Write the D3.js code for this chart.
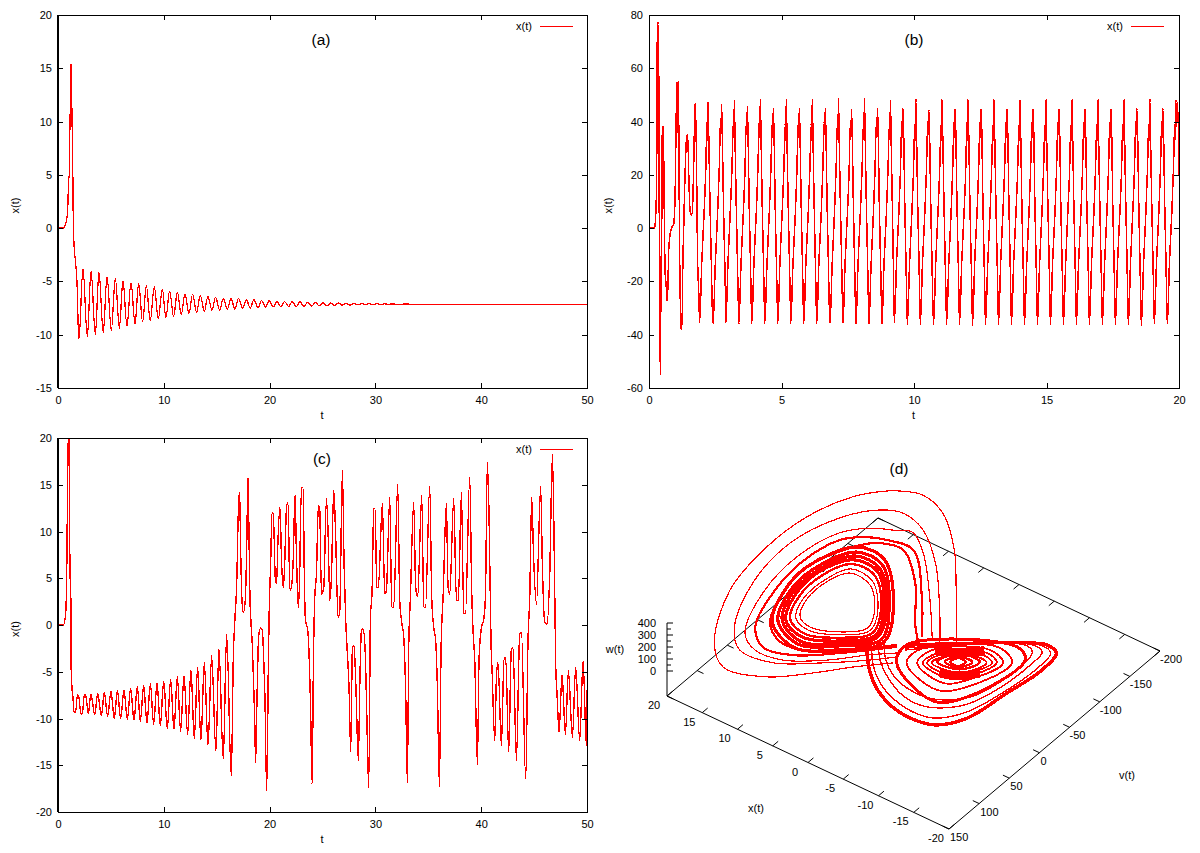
<!DOCTYPE html>
<html>
<head>
<meta charset="utf-8">
<script src="https://cdn.jsdelivr.net/npm/d3@7"></script>
<style>
  html, body { margin: 0; background: #fff; }
  svg { display: block; font-family: "Liberation Sans", sans-serif; }
  .tick text { font: 11px "Liberation Sans", sans-serif; fill: #000; }
  .tick line, .domain { stroke: #000; shape-rendering: crispEdges; }
  .lbl { font-size: 11px; fill: #000; }
  .ttl { font-size: 15.5px; fill: #000; }
  .curve { fill: none; stroke: #f00; stroke-width: 1.3; shape-rendering: crispEdges; }
</style>
</head>
<body>
<svg id="chart" width="1200" height="853"></svg>
<script>
// (a) decaying oscillation
const aT = [0,.5,.72,.85,.93,1,1.07,1.13,1.16,1.23,1.27,1.35,1.38,1.42,1.51,1.64,1.73,1.83,1.89,
  1.98,2.36,2.77,3.12,3.53,3.87,4.28,4.63,5.04,5.42,5.8,6.14,6.52,6.9,7.28,7.62,8,8.35,8.72,9.1,9.48,9.86,
  10.2,10.55,10.93,11.28,11.65,12,12.38,12.72,13.1,13.45,13.83,14.17,14.55,14.9,15.28,15.62,16,16.35,16.72,17.07,
  17.45,17.8,18.17,18.52,18.9,19.24,19.62,19.97,20.35,20.7,21.07,21.42,21.8,22.14,22.52,22.87,
  23.24,23.6,23.97,24.33,24.7,25.05,25.42,25.78,26.15,26.5,26.88,27.24,27.6,27.97,28.33,28.7,29.06,29.42,29.8,30.15,
  30.5,30.88,31.24,31.6,32,33,33.4,34,50];
const aX = [0,0,.4,1,2.1,4.5,5,10.8,9.2,15.4,9.5,11.2,8,2.8,-1.5,-3,-4,-6,-8.6,
  -10.4,-3.8,-10.2,-4,-10,-4.1,-9.8,-4.5,-9.6,-4.7,-9.4,-4.9,-9.2,-5.1,-9,-5.2,-8.8,-5.4,-8.7,-5.5,-8.5,-5.7,
  -8.4,-5.9,-8.3,-6,-8.1,-6.2,-8,-6.2,-7.9,-6.3,-7.8,-6.4,-7.7,-6.5,-7.7,-6.6,-7.6,-6.6,-7.6,-6.6,
  -7.5,-6.7,-7.5,-6.7,-7.5,-6.8,-7.4,-6.8,-7.4,-6.85,-7.4,-6.9,-7.35,-6.9,-7.35,-6.9,
  -7.35,-6.95,-7.32,-6.97,-7.3,-7,-7.28,-7.02,-7.26,-7.03,-7.23,-7.05,-7.22,-7.06,-7.2,-7.07,-7.19,-7.08,-7.18,-7.09,
  -7.17,-7.1,-7.16,-7.11,-7.15,-7.12,-7.16,-7.14,-7.14];

// (b) periodic regime
const bT = [0,.21,.25,.29,.31,.34,.37,.38,.4,.43,.45,.48,.5,.53,.55,.58,.62,.65,.68,.72,.74,.78,.82,.87,.92,.96,.99,1.02,1.06,1.08,1.11,1.13,1.16,1.2,1.21,1.25,1.27,1.31,1.35,1.39,1.42,1.46,1.5,1.54,1.57,1.62,1.66,1.7,1.73,1.75,1.79,1.83,1.88,
  1.91,1.99,2.08,2.14,2.19,2.21,2.23,2.26,2.3,2.35,2.38,
  2.42,2.5,2.59,2.65,2.7,2.72,2.74,2.77,2.81,2.86,2.89,
  2.9,2.98,3.07,3.13,3.18,3.2,3.22,3.25,3.29,3.34,3.37,
  3.39,3.47,3.56,3.62,3.67,3.69,3.71,3.74,3.78,3.83,3.86,
  3.88,3.96,4.05,4.11,4.16,4.18,4.2,4.23,4.27,4.32,4.35,
  4.37,4.45,4.54,4.6,4.65,4.67,4.69,4.72,4.76,4.81,4.84,
  4.86,4.94,5.03,5.09,5.14,5.16,5.18,5.21,5.25,5.3,5.33,
  5.35,5.43,5.52,5.58,5.63,5.65,5.67,5.7,5.74,5.79,5.82,
  5.84,5.92,6.01,6.07,6.12,6.14,6.16,6.19,6.23,6.28,6.31,
  6.33,6.41,6.5,6.56,6.61,6.63,6.65,6.68,6.72,6.77,6.8,
  6.83,6.91,7,7.06,7.11,7.13,7.15,7.18,7.22,7.27,7.3,
  7.32,7.4,7.49,7.55,7.6,7.62,7.64,7.67,7.71,7.76,7.79,
  7.81,7.89,7.98,8.04,8.09,8.11,8.13,8.16,8.2,8.25,8.28,
  8.3,8.38,8.47,8.53,8.58,8.6,8.62,8.65,8.69,8.74,8.77,
  8.79,8.87,8.96,9.02,9.07,9.09,9.11,9.14,9.18,9.22,9.24,
  9.26,9.34,9.43,9.49,9.54,9.56,9.58,9.61,9.65,9.7,9.73,
  9.75,9.83,9.92,9.98,10.03,10.05,10.07,10.1,10.14,10.19,10.22,
  10.24,10.32,10.41,10.47,10.52,10.54,10.56,10.59,10.63,10.68,10.71,
  10.74,10.82,10.91,10.97,11.02,11.04,11.06,11.09,11.13,11.18,11.21,
  11.23,11.31,11.4,11.46,11.51,11.53,11.55,11.58,11.62,11.67,11.7,
  11.72,11.8,11.89,11.95,12,12.02,12.04,12.07,12.11,12.16,12.19,
  12.21,12.29,12.38,12.44,12.49,12.51,12.53,12.56,12.6,12.65,12.68,
  12.7,12.78,12.87,12.93,12.98,13,13.02,13.05,13.09,13.14,13.17,
  13.19,13.27,13.36,13.42,13.47,13.49,13.51,13.54,13.58,13.63,13.66,
  13.68,13.76,13.85,13.91,13.96,13.98,14,14.03,14.07,14.12,14.15,
  14.17,14.25,14.34,14.4,14.45,14.47,14.49,14.52,14.56,14.61,14.64,
  14.66,14.74,14.83,14.89,14.94,14.96,14.98,15.01,15.05,15.1,15.13,
  15.15,15.23,15.32,15.38,15.43,15.45,15.47,15.5,15.54,15.59,15.62,
  15.64,15.72,15.81,15.87,15.92,15.94,15.96,15.99,16.03,16.08,16.11,
  16.13,16.21,16.3,16.36,16.41,16.43,16.45,16.48,16.52,16.57,16.6,
  16.62,16.7,16.79,16.85,16.9,16.92,16.94,16.97,17.01,17.06,17.09,
  17.11,17.19,17.28,17.34,17.39,17.41,17.43,17.46,17.5,17.55,17.58,
  17.6,17.68,17.77,17.83,17.88,17.9,17.92,17.95,17.99,18.04,18.07,
  18.09,18.17,18.26,18.32,18.37,18.39,18.41,18.44,18.48,18.53,18.56,
  18.58,18.66,18.75,18.81,18.86,18.88,18.9,18.93,18.97,19.02,19.05,
  19.07,19.15,19.24,19.3,19.35,19.37,19.39,19.42,19.46,19.51,19.54,
  19.56,19.64,19.73,19.79,19.84,19.86,19.88,19.91,19.95,20];
const bX = [0,0,4,19,69,77.5,55,27,-30,-55,-19,0,35,38.5,32,3,-22,-20,-27.5,-20,-9,-3.5,-1,.5,1,5,15,38,55,36,55,27,-13,-35,-38,-35,-18,0,17,29,34,35,20,8,5,5,12,30,45,47,28,-10,-25,
  -35.5,-13,6,21,40,33,47.5,32,10,-12,-27,
  -36,-14,6,22,41,35,46.5,33,9,-13,-28,
  -35.5,-13,7,22,40,34,47.8,31,10,-14,-28,
  -36,-14,6,21,40,35,45.5,34,9,-13,-29,
  -36,-13,6,22,41,34,48.5,33,10,-13,-28,
  -36,-14,6,22,40,34,45,35,9,-14,-28,
  -36,-13,7,22,39,33,48.5,32,10,-13,-27,
  -36,-14,5,21,40,34,45,35,10,-13,-28,
  -36,-13,6,22,39,33,48.5,33,10,-14,-28,
  -36,-13,6,22,40,35,45,35,9,-13,-28,
  -36,-14,6,22,40,33,48.5,32,10,-13,-28,
  -36,-13,6,21,40,34,44.5,35,10,-14,-29,
  -36,-13,7,22,39,33,48.5,33,10,-13,-28,
  -36,-14,6,22,40,34,45,36,9,-13,-28,
  -36,-13,6,22,39,33,48,32,10,-13,-28,
  -35.5,-13,6,22,40,34,45,36,10,-14,-28,
  -36,-14,6,21,39,33,48.5,33,9,-13,-28,
  -36,-13,6,22,40,35,44.5,35,10,-13,-28,
  -36,-13,7,22,39,33,48.5,32,10,-14,-27,
  -36,-14,6,22,40,34,45,35,10,-13,-28,
  -36,-13,6,21,40,33,48.5,33,9,-13,-28,
  -36.5,-13,6,22,40,34,45,36,10,-14,-28,
  -36,-14,6,22,39,33,48.5,32,10,-13,-28,
  -36,-13,7,22,40,34,45,35,10,-13,-29,
  -36,-13,6,21,39,33,48.5,33,9,-14,-28,
  -36,-14,6,22,40,34,45,36,10,-13,-28,
  -36,-13,6,22,39,33,48.5,32,10,-13,-28,
  -36,-13,6,22,40,35,45,35,9,-14,-28,
  -36,-14,7,21,39,33,48.5,33,10,-13,-27,
  -36,-13,6,22,40,34,45,35,10,-13,-28,
  -36,-13,6,22,39,33,48.5,32,10,-14,-28,
  -36,-14,6,22,40,34,45,36,9,-13,-28,
  -36,-13,6,21,39,33,48.5,33,10,-13,-28,
  -36,-13,7,22,40,35,45,35,10,-14,-28,
  -36.5,-14,6,22,39,33,48.5,32,10,-13,-28,
  -36,-13,6,22,40,34,45,35,9,-13,-29,
  -36,-13,6,22,39,33,48,38,47,20];

// (c) transient chaos
const cT = [0,.5,.66,.76,.82,.91,.98,1.04,1.1,1.17,1.2,1.23,1.32,1.42,1.51,1.67,1.83,1.95,2.17,2.3,2.49,2.65,2.87,3.09,3.18,3.47,3.75,4.1,4.38,4.69,5.01,5.32,5.61,5.92,6.24,6.55,6.87,7.18,7.5,7.78,8.1,8.41,8.73,9.04,9.36,9.67,9.99,
  10.33,10.65,10.96,11.28,11.59,11.91,12.25,12.57,12.88,13.2,13.51,13.83,14.18,14.52,14.93,15.21,15.62,15.94,16.38,
  16.57,16.73,16.88,17.07,17.17,17.26,17.39,17.51,17.7,17.83,17.96,18.05,18.14,18.24,18.36,18.46,18.59,18.68,18.77,18.87,18.96,19.15,19.31,19.44,19.56,19.72,19.81,19.88,19.97,
  20.1,20.22,20.35,20.54,20.66,20.79,20.98,21.14,21.29,21.39,21.61,21.74,21.92,22.08,22.24,22.4,22.55,22.71,22.81,
  23.01,23.17,23.29,23.39,23.61,23.73,23.86,24.02,24.14,24.27,24.43,24.61,24.74,24.9,25.12,25.37,25.53,25.69,25.84,26.06,26.22,26.47,26.63,26.88,
  27.04,27.2,27.32,27.51,27.67,27.83,27.98,28.14,28.39,28.52,28.68,28.83,29.02,29.15,29.37,29.53,29.69,29.84,29.97,
  30.13,30.28,30.66,30.88,31.04,31.36,31.54,31.73,32.11,32.3,32.46,32.68,32.87,33.02,33.15,33.31,33.62,33.81,34,34.38,34.57,34.73,35.14,35.32,35.51,35.7,35.86,36.05,36.21,36.4,36.71,36.87,37.03,37.4,37.66,37.84,38.13,38.35,38.51,38.92,39.1,39.23,39.39,39.64,39.8,
  40.02,40.24,40.4,40.58,40.74,40.93,41.03,41.28,41.44,41.59,41.91,42.16,42.32,42.6,42.85,43.01,43.33,43.64,43.8,44.21,44.43,44.59,44.77,44.96,45.22,45.62,45.78,46,46.22,46.48,46.73,46.88,47.04,47.17,47.36,47.64,47.96,48.24,48.62,48.93,49.31,49.63,49.94,50];
const cX = [0,0,.6,2,5,15.4,19.8,20,10,3.3,6.6,-3.8,-6.7,-7.8,-9.3,-9.3,-7.5,-7.6,-9.5,-9.5,-7.4,-7.7,-9.5,-7.4,-7.7,-9.6,-7.3,-9.7,-7.2,-9.8,-7.1,-10,-7,-10,-6.95,-10.1,-6.75,-10.2,-6.6,-10.3,-6.5,-10.5,-6.3,-10.6,-6.2,-10.8,-6,
  -11.1,-5.8,-11.2,-5.5,-11.4,-5.4,-11.7,-4.8,-12.2,-4.5,-12.4,-4,-12.9,-3.3,-13.5,-2.5,-14.4,-1,-16.2,
  -3.5,.8,4,13,14.2,8.3,2.6,1.3,2.6,8,15.8,10,3,.3,-2,-5.3,-10,-14.7,-10,-4.7,-1.3,-.3,-.6,-3.5,-7.8,-17.7,-12,-4.2,1.9,
  6.5,12,12,5,4.4,9,12.6,6.5,4,5.5,12.7,13.1,3.7,4.2,7.2,13.9,7,1.9,3.9,
  14.7,14.7,4.7,.5,-.6,-3.1,-8.1,-17,-4.2,3,5.5,12.8,12.3,3.3,4,13.5,9.8,2.6,5,14.4,10.5,.8,1.5,16.5,
  6.5,.3,-2.4,-6.7,-13.6,-2.4,-2.2,-6,-14.5,-6.7,-.6,-.4,-2.4,-7.7,-17.4,.8,3.7,12.4,12.5,
  4,4,13,3.3,3.7,13.7,1.9,1.9,15,2.6,.5,-1.3,-7.7,-16.9,-2.4,3,13.1,4,3,13.9,1.9,1.9,14.9,3,-.2,-1.7,-6.7,-17.3,-2.4,3,13,4,3.3,13.5,2.6,2.6,14.2,1.2,1.2,15.8,3.7,-.6,-3.8,-14.9,-3.5,
  -.3,.6,3,17.4,11.9,-2,-4.9,-12.4,-5.6,-4,-12.9,-3.5,-3.5,-13.6,-2.6,-2.4,-14.5,-1,-.8,-16.5,-1.3,3,13.7,7,2.2,14.8,6.5,.3,.1,5.5,18.2,10,-4.2,-7.4,-11.5,-5.3,-11.7,-4.9,-12,-4.5,-12.4,-3.8,-12.9,-7];

// (d) attractor, [x, v] pairs, closed loops around each lobe
const dWings = [
  [[-3.3,-57.3],[3.2,-133],[6.9,-173.4],[11.9,-213],[15.7,-224],[18.2,-215.6],[19.4,-207.9],[21.9,-180.1],[23.9,-127.5],[24.3,-65.9],[23,10.4],[18.7,86.7],[15.3,111.7],[10.3,98.1],[6.5,65.6],[3.5,34.3],[.3,5.4]],
  [[-1.8,-47.7],[1,-80.5],[7.2,-145.7],[11.9,-180.1],[15.5,-189.6],[18,-179.7],[20.8,-145.8],[22.6,-84.6],[21.7,-12.2],[18.6,54.6],[15.7,80.1],[11.3,76.8],[6.7,47.1],[2.7,15.3],[.6,-4.6]],
  [[-.8,-46.8],[4.1,-99.8],[9.4,-151.1],[12.7,-171.1],[14.6,-162.3],[16.9,-151.1],[19.2,-126.9],[20.5,-71.2],[19.7,-5.5],[17,55.7],[14.3,71.1],[10.6,67.1],[6.6,40.9],[3.5,10.8],[1,-9.6]],
  [[.5,-44.6],[4.8,-95],[10.6,-149],[14.1,-146.1],[16.2,-138],[18.4,-118.1],[19.5,-65.3],[18.6,-4.6],[16.7,42.1],[13.9,62.6],[10.2,54.8],[6.2,24.4],[3.8,2.7],[1.7,-17.2]],
  [[.5,-37.9],[2.6,-58.1],[6.9,-108.6],[11.5,-143],[14.4,-138.1],[16.2,-120.6],[18.5,-64.4],[17.9,-18.6],[15.9,26.9],[13.2,44.9],[10.2,44.4],[6.3,23.1],[3.6,-2.8],[1.9,-19.7]]
];
const dLeftLoops = [
  [[10.8,-79.2],[7.7,-50.7],[6.4,-23.2],[8.5,-2.1],[11.7,9.4],[13.7,2.8],[15,-22.8],[15,-61.8],[13.9,-82.5]],
  [[11,-85.5],[7.5,-53.7],[5.9,-22.5],[8.2,1.7],[11.6,14.4],[14,6.4],[15.4,-21.7],[15.4,-62.5],[14.3,-88.1]],
  [[11.3,-93.6],[7.3,-56.7],[5.4,-20.5],[7.9,5.5],[11.4,21.2],[14.4,11.2],[16,-21.8],[16.2,-63.3],[14.7,-95]],
  [[11.5,-100.3],[7.2,-59.8],[4.9,-19.8],[7.5,9.3],[11.4,26.8],[14.7,14.9],[16.5,-20.8],[16.9,-63.4],[15,-101.3]],
  [[11.6,-105.3],[6.9,-61.6],[4.5,-18.4],[7.2,13.1],[11.1,33.1],[15,17.3],[16.9,-19.6],[17.2,-62.9],[15.3,-106.9]],
  [[11.8,-111.6],[6.8,-64.1],[3.9,-17.7],[7,15.6],[11,38.1],[15.3,20.9],[17.3,-19.1],[17.7,-63.7],[15.6,-112.6]],
  [[12.2,-119.7],[6.5,-67.7],[3.4,-15.7],[6.6,20.6],[10.9,44.8],[15.7,25.7],[17.9,-18.6],[18.5,-64.4],[16.1,-119.4]]
];
const dRightLoops = [
  [[0,3],[-7.4,29.5],[-10.1,4.3],[-11.4,-76.9],[-9.3,-88.6],[1,-25.6]],
  [[-.9,-2.9],[-6.6,13.3],[-9,-8.3],[-10.5,-65.4],[-7.8,-77.1],[-.8,-31.3]],
  [[-1.9,-8.9],[-6.4,.9],[-8.3,-17.2],[-9.7,-60],[-7.1,-68.7],[-1.9,-34.8]],
  [[-2.4,-12.4],[-6.3,-7.8],[-7.9,-20.9],[-9.1,-56.5],[-7.2,-63.1],[-2.7,-33.4]],
  [[-2.8,-14.8],[-6.2,-13.4],[-7.6,-26.6],[-8.7,-53.5],[-7.1,-58.2],[-3.1,-32.6]],
  [[-3.2,-17.8],[-6.1,-18.9],[-7.6,-30.3],[-8.2,-50.5],[-6.7,-52.2],[-3.6,-31.9]],
  [[-3.6,-22],[-6,-23.9],[-7.1,-32.9],[-7.5,-47.5],[-6,-49.2],[-3.9,-35.5]],
  [[-4.3,-26.7],[-5.9,-27],[-6.6,-33.6],[-6.8,-42.8],[-5.7,-43.7],[-4.5,-36]],
  [[-4.8,-29.7],[-6,-29.4],[-6.2,-39.2],[-5.1,-39.5]]
];
// the dense packed arcs above and below the right hole
const dRightCaps = [
  [[-2.2,-34.7],[-4.5,-47.1],[-6.7,-64.4]],
  [[-5,-9.9],[-7,-16.8],[-8.7,-33.7]]
];
const dStrands = [
  [[5.2,-7.5],[2.3,22.8],[-.4,43.9],[-4,60.2],[-7.2,64.7],[-10.2,58.6],[-12.4,30.8],[-13.3,-24.6],[-14,-70.6],[-13.5,-104.2],[-11.8,-108.9],[-10.3,-103.1],[.7,-27.4]],
  [[4.7,-10.5],[1.9,19.8],[-.7,38.4],[-3.8,50.9],[-7.1,55.4],[-9.5,49.8],[-11.7,23.2],[-12.9,-23.4],[-13.4,-74],[-13,-100.6],[-11.1,-104.7],[1,-23.1]],
  [[4.1,-14.6],[1.8,9.4],[-.9,27.3],[-4,40.5],[-6.7,42.4],[-8.8,34.3],[-10.9,13.1],[-12.1,-26.7],[-12.4,-73.6],[-12.1,-97.1],[-10.5,-100.6],[.8,-20.6]],
  [[3.6,-18.2],[1.3,5.8],[-1,20.5],[-3.6,28.6],[-6.3,29.3],[-8.4,21.2],[-10.4,2.5],[-11.5,-34.2],[-11.7,-73.1],[-11.2,-91.2],[-9.8,-95.8],[.6,-18.1]]
];

// tick labels
const aTicksX = [0,10,20,30,40,50];
const aTicksY = [-15,-10,-5,0,5,10,15,20];
const bTicksX = [0,5,10,15,20];
const bTicksY = [-60,-40,-20,0,20,40,60,80];
const cTicksY = [-20,-15,-10,-5,0,5,10,15,20];
const dTicksX = [20,15,10,5,0,-5,-10,-15,-20];
const dTicksV = [150,100,50,0,-50,-100,-150,-200];
const dTicksW = [0,100,200,300,400];
const dMinorW = [50,150,250,350];

const svg = d3.select("#chart");

function drawPanel(opts) {
  const { left, right, top, bottom, domainX, domainY, ticksX, ticksY, ts, xs, id } = opts;
  const x = d3.scaleLinear().domain(domainX).range([left, right]);
  const y = d3.scaleLinear().domain(domainY).range([bottom, top]);
  const g = svg.append("g");

  svg.append("clipPath").attr("id", id).append("rect")
    .attr("x", left).attr("y", top).attr("width", right - left).attr("height", bottom - top);

  const line = d3.line().x(d => x(d[0])).y(d => y(d[1])).curve(d3.curveMonotoneX);
  g.append("path")
    .datum(ts.map((t, i) => [t, xs[i]]))
    .attr("class", "curve")
    .style("stroke-width", opts.lineWidth)
    .attr("clip-path", `url(#${id})`)
    .attr("d", line);

  // inward ticks on all four sides, gnuplot style
  const txt = d => d;
  g.append("g").attr("transform", `translate(0,${bottom})`)
    .call(d3.axisBottom(x).tickValues(ticksX).tickFormat(txt).tickSize(-5).tickSizeOuter(0).tickPadding(8));
  g.append("g").attr("transform", `translate(0,${top})`)
    .call(d3.axisTop(x).tickValues(ticksX).tickFormat("").tickSize(-5).tickSizeOuter(0));
  g.append("g").attr("transform", `translate(${left},0)`)
    .call(d3.axisLeft(y).tickValues(ticksY).tickFormat(txt).tickSize(-5).tickSizeOuter(0).tickPadding(6));
  g.append("g").attr("transform", `translate(${right},0)`)
    .call(d3.axisRight(y).tickValues(ticksY).tickFormat("").tickSize(-5).tickSizeOuter(0));

  if (opts.thickLeft) {
    g.append("line").attr("x1", left).attr("x2", left).attr("y1", top).attr("y2", bottom)
      .attr("stroke", "#000").attr("stroke-width", 2).attr("shape-rendering", "crispEdges");
  }

  // legend
  g.append("text").attr("class", "lbl").attr("text-anchor", "end")
    .attr("x", opts.legendX).attr("y", top + opts.legendDy + 4).text("x(t)");
  g.append("line").attr("x1", opts.legendX + 8).attr("x2", opts.legendX + 41)
    .attr("y1", top + opts.legendDy).attr("y2", top + opts.legendDy)
    .attr("stroke", "#f00").attr("stroke-width", 1).attr("shape-rendering", "crispEdges");

  // axis titles and panel letter
  g.append("text").attr("class", "lbl").attr("text-anchor", "middle")
    .attr("transform", `translate(${opts.yLabelX},${(top + bottom) / 2 + 4}) rotate(-90)`).text("x(t)");
  g.append("text").attr("class", "lbl").attr("text-anchor", "middle")
    .attr("x", (left + right) / 2 - 0.5).attr("y", bottom + 31).text("t");
  g.append("text").attr("class", "ttl").attr("text-anchor", "middle")
    .attr("x", opts.titleX).attr("y", opts.titleY).text(opts.title);
}

drawPanel({ id: "clipA", left: 58, right: 587, top: 15, bottom: 388, domainX: [0, 50], domainY: [-15, 20],
  ticksX: aTicksX, ticksY: aTicksY, ts: aT, xs: aX, thickLeft: true, legendX: 532, legendDy: 11, lineWidth: 1.3,
  yLabelX: 19, title: "(a)", titleX: 321, titleY: 45 });
drawPanel({ id: "clipB", left: 649, right: 1179, top: 15, bottom: 388, domainX: [0, 20], domainY: [-60, 80],
  ticksX: bTicksX, ticksY: bTicksY, ts: bT, xs: bX, legendX: 1123, legendDy: 11, lineWidth: 1.5,
  yLabelX: 612, title: "(b)", titleX: 914, titleY: 45 });
drawPanel({ id: "clipC", left: 58, right: 587, top: 438, bottom: 812, domainX: [0, 50], domainY: [-20, 20],
  ticksX: aTicksX, ticksY: cTicksY, ts: cT, xs: cX, thickLeft: true, legendX: 532, legendDy: 11, lineWidth: 1.4,
  yLabelX: 19, title: "(c)", titleX: 322, titleY: 464 });

// (d) 3d view: the floor is a parallelogram, w lifts straight up
const corner = { x: 667, y: 696 };
const xFrac = d3.scaleLinear().domain([20, -20]).range([0, 1]);
const vFrac = d3.scaleLinear().domain([150, -200]).range([0, 1]);
const wLift = d3.scaleLinear().domain([0, 400]).range([25, 73]);

function floorPt(x, v) {
  const a = xFrac(x), b = vFrac(v);
  return [corner.x + a * 282 + b * 211, corner.y + a * 133 - b * 178];
}
function curvePt(d) {
  const p = floorPt(d[0], d[1]);
  return [p[0], p[1] - wLift(0)];
}

const gd = svg.append("g");
const drawSeg = (a, b) => gd.append("line")
  .attr("x1", a[0]).attr("y1", a[1]).attr("x2", b[0]).attr("y2", b[1])
  .attr("stroke", "#000").attr("stroke-width", 1);

drawSeg(floorPt(20, 150), floorPt(-20, 150));
drawSeg(floorPt(-20, 150), floorPt(-20, -200));
drawSeg(floorPt(-20, -200), floorPt(20, -200));
drawSeg(floorPt(20, -200), floorPt(20, 150));

dTicksX.forEach(t => {
  drawSeg(floorPt(t, 150), floorPt(t, 141));
  drawSeg(floorPt(t, -200), floorPt(t, -191));
  const p = floorPt(t, 150);
  gd.append("text").attr("class", "lbl").attr("text-anchor", "middle")
    .attr("x", p[0] - 13).attr("y", p[1] + 13).text(t);
});
dTicksV.forEach(t => {
  drawSeg(floorPt(20, t), floorPt(19.1, t));
  drawSeg(floorPt(-20, t), floorPt(-19.1, t));
  const p = floorPt(-20, t);
  gd.append("text").attr("class", "lbl").attr("text-anchor", "start")
    .attr("x", p[0] + (t < 0 ? 0 : 1)).attr("y", p[1] + 12).text(t);
});

// w axis
const wY = d3.scaleLinear().domain([0, 400]).range([corner.y - wLift(0), corner.y - wLift(400)]);
drawSeg([corner.x, corner.y], [corner.x, wY(400)]);
dTicksW.forEach(t => {
  drawSeg([corner.x, wY(t)], [corner.x + 6, wY(t)]);
  gd.append("text").attr("class", "lbl").attr("text-anchor", "end")
    .attr("x", corner.x - 11).attr("y", wY(t) + 4).text(t);
});
dMinorW.forEach(t => drawSeg([corner.x, wY(t)], [corner.x + 4, wY(t)]));

const openLine = d3.line().curve(d3.curveCatmullRom.alpha(0.5));
const closedLine = d3.line().curve(d3.curveCatmullRomClosed.alpha(0.5));
const addCurve = (pts, path, w) => gd.append("path").attr("class", "curve")
  .style("stroke-width", w).attr("d", path(pts.map(curvePt)));

dWings.forEach((d, i) => addCurve(d, openLine, i < 3 ? 1.2 : 2.2));
dLeftLoops.forEach((d, i) => addCurve(d, closedLine, i < 2 ? 1.2 : i === 2 ? 2.4 : 3.2));
dRightCaps.forEach(d => addCurve(d, openLine, 9));
dRightLoops.forEach((d, i) => addCurve(d, closedLine, i === 0 ? 3 : i < 6 ? 1.8 : 2.4));
dStrands.forEach((d, i) => addCurve(d, openLine, i === 0 ? 3.4 : 1.4));

gd.append("text").attr("class", "ttl").attr("text-anchor", "middle").attr("x", 899).attr("y", 474).text("(d)");
gd.append("text").attr("class", "lbl").attr("text-anchor", "middle").attr("x", 756).attr("y", 812).text("x(t)");
gd.append("text").attr("class", "lbl").attr("text-anchor", "middle").attr("x", 1127).attr("y", 779).text("v(t)");
gd.append("text").attr("class", "lbl").attr("text-anchor", "middle").attr("x", 615).attr("y", 653).text("w(t)");
</script>
</body>
</html>
